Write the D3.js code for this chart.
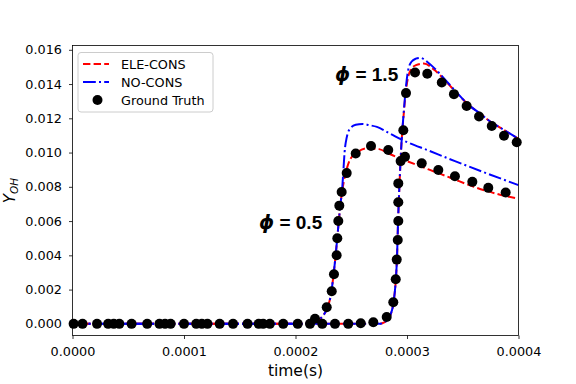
<!DOCTYPE html>
<html>
<head>
<meta charset="utf-8">
<script src="https://cdn.jsdelivr.net/npm/d3@7"></script>
<style>
  body { margin: 0; background: #fff; }
  svg { font-family: "DejaVu Sans", sans-serif; }
</style>
</head>
<body>
<div id="chart"></div>
<script>
// time values are in units of 1e-4 s
const eleT05 = [0, 1.0, 2.0, 2.15, 2.2, 2.25, 2.29, 2.32, 2.34, 2.36, 2.38, 2.4, 2.42, 2.45, 2.49, 2.55, 2.65, 2.75, 2.85, 3.0, 3.2, 3.4, 3.6, 3.8, 4.0];
const eleY05 = [0, 0, 0, 0.00005, 0.0002, 0.0005, 0.001, 0.0018, 0.0028, 0.0040, 0.0054, 0.0068, 0.0078, 0.0088, 0.0096, 0.0100, 0.01025, 0.0102, 0.0099, 0.0095, 0.0090, 0.0085, 0.0080, 0.0076, 0.0073];
const noT05 = [0, 1.0, 2.0, 2.15, 2.2, 2.25, 2.29, 2.32, 2.34, 2.36, 2.38, 2.4, 2.42, 2.43, 2.44, 2.46, 2.49, 2.54, 2.6, 2.66, 2.73, 2.85, 2.97, 3.2, 3.43, 3.71, 4.0];
const noY05 = [0, 0, 0, 0.00005, 0.0002, 0.0005, 0.001, 0.0018, 0.0028, 0.0040, 0.0054, 0.0068, 0.0080, 0.0090, 0.0100, 0.0109, 0.0114, 0.01162, 0.01167, 0.0116, 0.0115, 0.0111, 0.0107, 0.0101, 0.0095, 0.0088, 0.0081];
const eleT15 = [0, 1.0, 2.0, 2.75, 2.8, 2.85, 2.88, 2.9, 2.91, 2.92, 2.935, 2.95, 2.97, 2.99, 3.01, 3.04, 3.08, 3.15, 3.25, 3.35, 3.45, 3.55, 3.65, 3.75, 3.85, 3.95, 4.0];
const eleY15 = [0, 0, 0, 0, 0.0001, 0.0005, 0.0013, 0.0026, 0.0038, 0.0060, 0.0085, 0.0105, 0.0122, 0.0136, 0.0144, 0.0149, 0.0151, 0.0152, 0.0148, 0.01415, 0.01345, 0.0128, 0.0123, 0.0118, 0.0114, 0.0110, 0.0108];
const noT15 = [0, 1.0, 2.0, 2.75, 2.8, 2.85, 2.88, 2.9, 2.91, 2.92, 2.935, 2.95, 2.97, 2.99, 3.01, 3.04, 3.08, 3.12, 3.18, 3.25, 3.35, 3.45, 3.55, 3.65, 3.75, 3.85, 3.95, 4.0];
const noY15 = [0, 0, 0, 0, 0.0001, 0.0005, 0.0013, 0.0026, 0.0038, 0.0060, 0.0085, 0.0105, 0.0123, 0.0138, 0.0148, 0.0153, 0.01548, 0.01553, 0.0153, 0.0149, 0.0142, 0.01348, 0.0128, 0.0123, 0.0118, 0.0114, 0.0110, 0.0108];

const gtT05 = [0.01, 0.22, 0.37, 0.53, 0.78, 0.88, 1.11, 1.21, 1.44, 1.67, 1.77, 2.02, 2.175, 2.28, 2.325, 2.345, 2.369, 2.375, 2.384, 2.393, 2.414, 2.459, 2.54, 2.677, 2.832, 2.982, 3.132, 3.281, 3.43, 3.586, 3.729, 3.885];
const gtY05 = [0, 0, 0, 0, 0, 0, 0, 0, 0, 0, 0, 0, 0.0003, 0.00097, 0.0019, 0.0029, 0.0040, 0.0050, 0.0060, 0.0069, 0.0077, 0.0088, 0.00995, 0.01038, 0.01015, 0.00975, 0.00937, 0.00898, 0.00862, 0.00829, 0.00794, 0.00767];
const gtT15 = [0.09, 0.32, 0.42, 0.67, 0.83, 1.0, 1.16, 1.32, 1.57, 1.71, 1.89, 2.13, 2.24, 2.354, 2.473, 2.585, 2.698, 2.818, 2.877, 2.899, 2.908, 2.917, 2.922, 2.922, 2.922, 2.943, 2.967, 2.991, 3.072, 3.182, 3.312, 3.421, 3.535, 3.646, 3.76, 3.87, 3.984];
const gtY15 = [0, 0, 0, 0, 0, 0, 0, 0, 0, 0, 0, 0, 0, 0, 0, 0.00004, 0.00009, 0.0004, 0.00126, 0.0026, 0.00375, 0.0049, 0.0060, 0.0071, 0.0082, 0.0095, 0.0113, 0.01347, 0.01467, 0.0146, 0.01409, 0.01341, 0.01272, 0.0121, 0.01155, 0.01098, 0.0106];

const xTicks = [0, 0.0001, 0.0002, 0.0003, 0.0004];
const yTicks = [0, 0.002, 0.004, 0.006, 0.008, 0.010, 0.012, 0.014, 0.016];

const width = 576, height = 384;
const margin = { left: 72.5, right: 518.5, top: 45.5, bottom: 335.5 };

const svg = d3.select("#chart").append("svg")
    .attr("width", width)
    .attr("height", height);

const x = d3.scaleLinear().domain([0, 0.0004]).range([margin.left, margin.right]);
const y = d3.scaleLinear().domain([-0.00068, 0.01625]).range([margin.bottom, margin.top]);

const zip = (ts, ys) => ts.map((t, i) => ({ t: t * 1e-4, v: ys[i] }));

svg.append("defs").append("clipPath").attr("id", "clip")
    .append("rect")
    .attr("x", margin.left).attr("y", margin.top)
    .attr("width", margin.right - margin.left).attr("height", margin.bottom - margin.top);

const line = d3.line()
    .x(d => x(d.t))
    .y(d => y(d.v))
    .curve(d3.curveMonotoneX);

const plot = svg.append("g").attr("clip-path", "url(#clip)");

[[eleT05, eleY05], [eleT15, eleY15]].forEach(([ts, ys]) => {
    plot.append("path")
        .datum(zip(ts, ys))
        .attr("d", line)
        .attr("fill", "none")
        .attr("stroke", "#ff0000")
        .attr("stroke-width", 2)
        .attr("stroke-dasharray", "7.4,3.2");
});
[[noT05, noY05], [noT15, noY15]].forEach(([ts, ys]) => {
    plot.append("path")
        .datum(zip(ts, ys))
        .attr("d", line)
        .attr("fill", "none")
        .attr("stroke", "#0000ff")
        .attr("stroke-width", 2)
        .attr("stroke-dasharray", "12.8,3.2,2,3.2");
});

const gt = zip(gtT05, gtY05).concat(zip(gtT15, gtY15));
svg.append("g").selectAll("circle")
    .data(gt)
    .join("circle")
    .attr("cx", d => x(d.t))
    .attr("cy", d => y(d.v))
    .attr("r", 5)
    .attr("fill", "#000");

// axes
const xAxis = svg.append("g")
    .attr("transform", `translate(0,${margin.bottom})`)
    .call(d3.axisBottom(x).tickValues(xTicks).tickFormat(d3.format(".4f")).tickSize(3.5).tickPadding(7.5));
const yAxis = svg.append("g")
    .attr("transform", `translate(${margin.left},0)`)
    .call(d3.axisLeft(y).tickValues(yTicks).tickFormat(d3.format(".3f")).tickSize(3.5).tickPadding(7));
[xAxis, yAxis].forEach(g => {
    g.select(".domain").remove();
    g.selectAll("line").attr("stroke", "#000").attr("stroke-width", 0.8);
    g.selectAll("text").attr("font-size", 12.8).attr("fill", "#000")
        .attr("font-family", "DejaVu Sans");
});

svg.append("rect")
    .attr("x", margin.left).attr("y", margin.top)
    .attr("width", margin.right - margin.left).attr("height", margin.bottom - margin.top)
    .attr("fill", "none").attr("stroke", "#000").attr("stroke-width", 0.8);

svg.append("text")
    .attr("x", (margin.left + margin.right) / 2).attr("y", 376)
    .attr("text-anchor", "middle")
    .attr("font-size", 15.5)
    .text("time(s)");

const yl = svg.append("text")
    .attr("transform", `translate(15,${(margin.top + margin.bottom) / 2}) rotate(-90)`)
    .attr("text-anchor", "middle")
    .attr("font-size", 15);
yl.append("tspan").attr("font-style", "italic").text("Y");
yl.append("tspan").attr("font-style", "italic").attr("font-size", 10.5).attr("dy", 3).text("OH");

// annotations
const ann = [
    { label: "1.5", tx: 335, ty: 81 },
    { label: "0.5", tx: 259, ty: 228.5 }
];
ann.forEach(a => {
    const t = svg.append("text")
        .attr("x", a.tx).attr("y", a.ty)
        .attr("font-size", 19)
        .attr("font-weight", "bold")
        .attr("font-family", "Liberation Sans, Arial, sans-serif");
    t.append("tspan").attr("font-style", "italic").attr("font-family", "DejaVu Sans").text("ϕ");
    t.append("tspan").text(" = " + a.label);
});

// legend
const lg = svg.append("g");
lg.append("rect")
    .attr("x", 78).attr("y", 52.5)
    .attr("width", 135).attr("height", 59.5)
    .attr("rx", 3)
    .attr("fill", "#fff").attr("fill-opacity", 0.8)
    .attr("stroke", "#cccccc").attr("stroke-width", 1);
const items = [
    { name: "ELE-CONS", color: "#ff0000", dash: "7.4,3.2" },
    { name: "NO-CONS", color: "#0000ff", dash: "12.8,3.2,2,3.2" },
    { name: "Ground Truth", color: "#000", dash: null }
];
items.forEach((it, i) => {
    const cy = 64 + i * 18;
    if (it.dash) {
        lg.append("line")
            .attr("x1", 83).attr("x2", 109)
            .attr("y1", cy).attr("y2", cy)
            .attr("stroke", it.color).attr("stroke-width", 2)
            .attr("stroke-dasharray", it.dash);
    } else {
        lg.append("circle").attr("cx", 97.5).attr("cy", cy).attr("r", 5).attr("fill", it.color);
    }
    lg.append("text")
        .attr("x", 121).attr("y", cy + 4.5)
        .attr("font-size", 12.8)
        .text(it.name);
});
</script>
</body>
</html>
